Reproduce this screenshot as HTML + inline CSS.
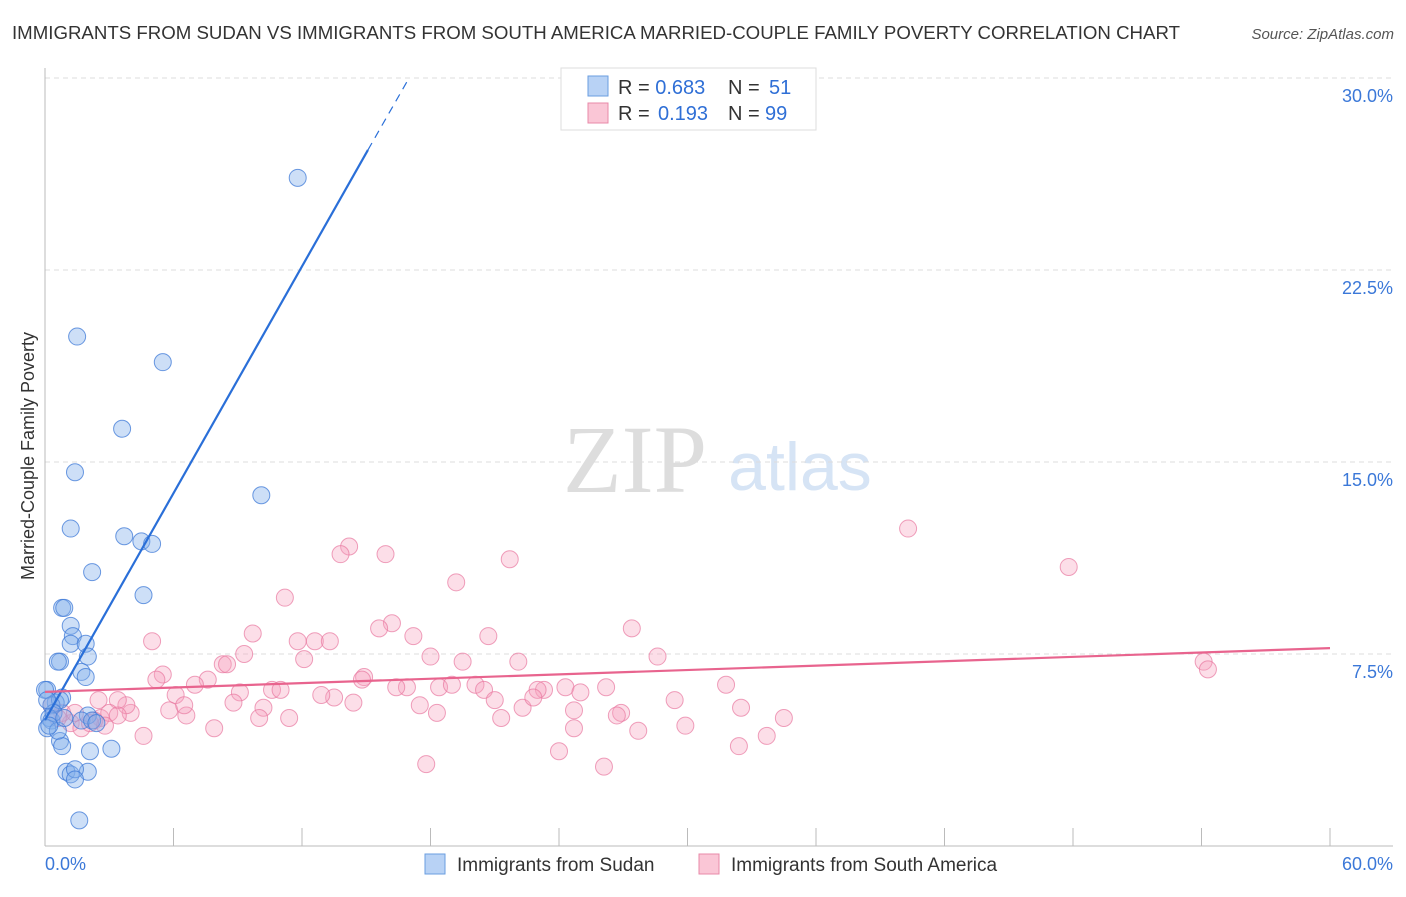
<!DOCTYPE html>
<html><head><meta charset="utf-8"><style>
body{margin:0;background:#fff;font-family:"Liberation Sans",sans-serif;}
svg text{font-family:"Liberation Sans",sans-serif;}
</style></head><body>
<svg id="chart" width="1406" height="892">
<text x="12" y="39" font-size="18" fill="#333" textLength="1168" lengthAdjust="spacingAndGlyphs">IMMIGRANTS FROM SUDAN VS IMMIGRANTS FROM SOUTH AMERICA MARRIED-COUPLE FAMILY POVERTY CORRELATION CHART</text>
<text x="1394" y="39" font-size="15" fill="#555" font-style="italic" text-anchor="end">Source: ZipAtlas.com</text>
<text x="635" y="492" font-size="96" fill="#ddd" text-anchor="middle" font-family="Liberation Serif" style="font-family:'Liberation Serif',serif">ZIP</text>
<text x="800" y="490" font-size="68" fill="#d6e4f5" text-anchor="middle">atlas</text>
<text transform="translate(34,456) rotate(-90)" font-size="18" fill="#333" text-anchor="middle">Married-Couple Family Poverty</text>
<g id="grid"></g><g id="pts"></g><g id="lines"></g>
<g>
<rect x="561" y="68" width="255" height="62" fill="#fff" stroke="#ddd"/>
<rect x="588" y="76" width="20" height="20" fill="#b8d2f5" stroke="#6a9ee0"/>
<rect x="588" y="103" width="20" height="20" fill="#fac6d6" stroke="#e889a8"/>
<text x="618" y="94" font-size="20" fill="#333">R = <tspan fill="#2f6fd6">0.683</tspan><tspan x="728">N = </tspan><tspan x="769" fill="#2f6fd6">51</tspan></text>
<text x="618" y="120" font-size="20" fill="#333">R = <tspan x="658" fill="#2f6fd6">0.193</tspan><tspan x="728">N = </tspan><tspan x="765" fill="#2f6fd6">99</tspan></text>
</g>
<g>
<rect x="425" y="854" width="20" height="20" fill="#b8d2f5" stroke="#6a9ee0"/>
<text x="457" y="871" font-size="19" fill="#333">Immigrants from Sudan</text>
<rect x="699" y="854" width="20" height="20" fill="#fac6d6" stroke="#e889a8"/>
<text x="731" y="871" font-size="19" fill="#333">Immigrants from South America</text>
</g>
</svg>
<script>
const yTicks=[7.5,15,22.5,30];
const yTickLabels=["7.5%","15.0%","22.5%","30.0%"];
const xTicks=[0,6,12,18,24,30,36,42,48,54,60];
const xEndLabels=["0.0%","60.0%"];
const sudanX=[11.8,1.5,5.5,3.6,1.4,10.1,1.2,3.7,4.5,5.0,2.2,4.6,0.8,0.9,1.2,1.3,1.2,1.9,0.7,0.6,2.0,1.7,1.9,0.8,0.1,0.0,0.5,0.3,0.2,0.3,0.1,0.7,0.8,2.0,1.7,2.2,2.4,3.1,2.1,1.0,1.2,2.0,1.4,1.4,1.6,0.7,0.4,0.6,0.2,0.9,0.1];
const sudanY=[26.1,19.9,18.9,16.3,14.6,13.7,12.4,12.1,11.9,11.8,10.7,9.8,9.3,9.3,8.6,8.2,7.9,7.9,7.2,7.2,7.4,6.8,6.6,5.8,6.1,6.1,5.6,5.5,5.0,4.9,4.6,4.1,3.9,5.1,4.9,4.9,4.8,3.8,3.7,2.9,2.8,2.9,3.0,2.6,1.0,5.7,5.2,4.5,4.7,5.0,5.7];
const saX=[40.3,47.8,54.1,54.3,14.2,13.8,15.9,21.7,19.2,11.2,16.2,15.6,27.4,5.0,9.7,11.8,12.6,13.3,17.2,20.7,8.3,8.5,12.1,9.3,18.0,19.5,22.1,28.6,5.5,5.2,7.6,7.0,14.9,14.8,20.1,23.3,23.0,24.3,25.0,26.2,18.4,16.9,16.4,19.0,20.5,10.6,11.0,9.1,6.1,8.8,10.2,13.5,14.4,12.9,29.4,31.8,21.0,22.3,22.8,17.5,18.3,21.3,24.7,26.9,26.7,32.5,34.5,29.9,24.7,27.7,7.9,4.6,10.0,11.4,6.6,5.8,6.5,4.0,3.8,3.4,2.5,2.6,2.3,1.2,0.8,1.4,0.6,3.0,2.8,32.4,33.7,24.0,17.8,26.1,0.3,1.7,2.1,3.4];
const saY=[12.4,10.9,7.2,6.9,11.7,11.4,11.4,11.2,10.3,9.7,8.7,8.5,8.5,8.0,8.3,8.0,8.0,8.0,8.2,8.2,7.1,7.1,7.3,7.5,7.4,7.2,7.2,7.4,6.7,6.5,6.5,6.3,6.6,6.5,6.3,6.1,6.1,6.2,6.0,6.2,6.2,6.2,6.2,6.3,6.1,6.1,6.1,6.0,5.9,5.6,5.4,5.8,5.6,5.9,5.7,6.3,5.7,5.4,5.8,5.5,5.2,5.0,5.3,5.2,5.1,5.4,5.0,4.7,4.6,4.5,4.6,4.3,5.0,5.0,5.1,5.3,5.5,5.2,5.5,5.7,5.7,5.0,4.9,4.8,5.2,5.2,5.0,5.2,4.7,3.9,4.3,3.7,3.2,3.1,5.5,4.6,4.8,5.1];
const sudanLine=[0,4.92,15.08,27.19,17.0,30];
const saLine=[0,6.02,60,7.73];
const NS="http://www.w3.org/2000/svg";
function sx(v){return 45+v/60*1285;}
function sy(v){return 846-v/7.5*192;}
function mk(t,a,p){const e=document.createElementNS(NS,t);for(const k in a)e.setAttribute(k,a[k]);p.appendChild(e);return e;}
const grid=document.getElementById('grid');
yTicks.forEach((t,i)=>{
 const l=mk('line',{x1:45,x2:1393,y1:sy(t),y2:sy(t),stroke:'#ddd','stroke-dasharray':'5,4'},grid);
 
 
 const tx=mk('text',{x:1393,y:sy(t)+24,'font-size':18,fill:'#3b78d8','text-anchor':'end'},grid);
 tx.textContent=yTickLabels[i];
 
 
});
const ax=mk('line',{x1:45,x2:45,y1:68,y2:846,stroke:'#bbb'},grid);


const bx=mk('line',{x1:45,x2:1393,y1:846,y2:846,stroke:'#bbb'},grid);


xTicks.forEach(t=>{if(t>0){const l=mk('line',{x1:sx(t),x2:sx(t),y1:828,y2:846,stroke:'#bbb'},grid);
 
 }});
[[0,'start',45],[60,'end',1393]].forEach((d,i)=>{const tx=mk('text',{x:d[2],y:870,'font-size':18,fill:'#3b78d8','text-anchor':d[1]},grid);tx.textContent=xEndLabels[i];
 
 });
const pts=document.getElementById('pts');
saX.forEach((x,i)=>{const c=mk('circle',{cx:sx(x),cy:sy(saY[i]),r:8.5,fill:'rgba(246,160,190,0.35)',stroke:'rgba(232,120,160,0.7)','stroke-width':1},pts);
 
 });
sudanX.forEach((x,i)=>{const c=mk('circle',{cx:sx(x),cy:sy(sudanY[i]),r:8.5,fill:'rgba(130,175,235,0.4)',stroke:'rgba(60,120,215,0.75)','stroke-width':1},pts);
 
 });
const lines=document.getElementById('lines');
const b1=mk('line',{x1:sx(sudanLine[0]),y1:sy(sudanLine[1]),x2:sx(sudanLine[2]),y2:sy(sudanLine[3]),stroke:'#2a6fd8','stroke-width':2.2},lines);


const b2=mk('line',{x1:sx(sudanLine[2]),y1:sy(sudanLine[3]),x2:sx(sudanLine[4]),y2:sy(sudanLine[5]),stroke:'#2a6fd8','stroke-width':1.2,'stroke-dasharray':'8,6'},lines);


const p1=mk('line',{x1:sx(saLine[0]),y1:sy(saLine[1]),x2:sx(saLine[2]),y2:sy(saLine[3]),stroke:'#e8648e','stroke-width':2.2},lines);


</script>
</body></html>
